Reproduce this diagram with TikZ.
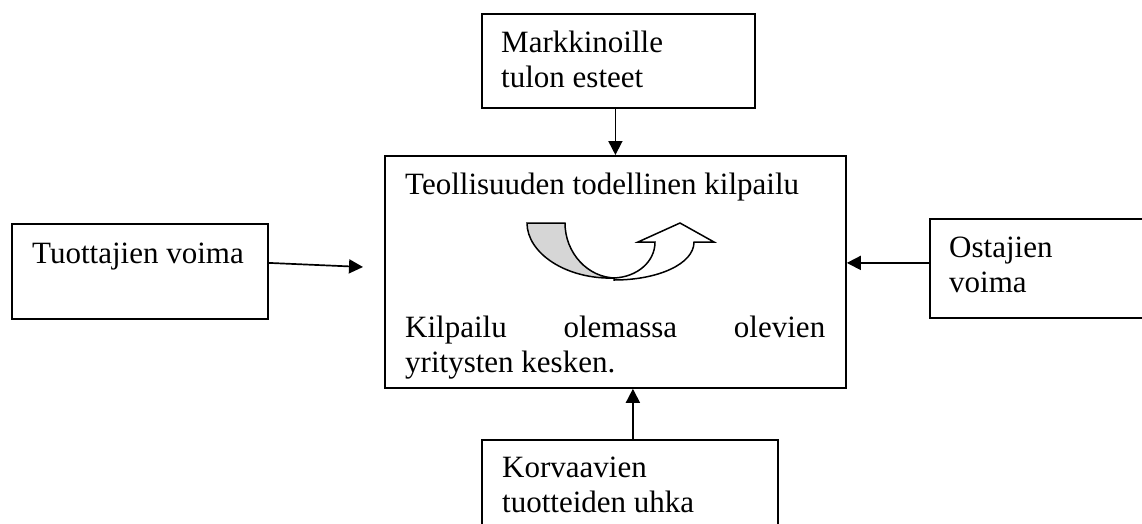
\documentclass[tikz,border=0pt]{standalone}
\usepackage{fontspec}
\setmainfont{Liberation Serif}
\usetikzlibrary{arrows.meta}

\begin{document}
\begin{tikzpicture}[x=1pt,y=-1pt,
  box/.style={draw, line width=1.8pt, rectangle, inner sep=0pt, anchor=north west},
  lbl/.style={anchor=base west, inner sep=0pt, font=\fontsize{31}{35}\selectfont},
  conn/.style={line width=1.7pt, -{Triangle[length=14pt,width=14pt]}},
  turn/.style={draw, line width=1.5pt, line join=miter}]

\useasboundingbox (0,0) rectangle (1142,523);
\clip (0,0) rectangle (1142,523);

% the five forces
\node[box, minimum width=273pt, minimum height=94pt]  (entry)     at (481,13)  {};
\node[box, minimum width=461pt, minimum height=232pt] (rivalry)   at (384,155) {};
\node[box, minimum width=256pt, minimum height=95pt]  (suppliers) at (11,223)  {};
\node[box, minimum width=240pt, minimum height=99pt]  (buyers)    at (929,218) {};
\node[box, minimum width=296pt, minimum height=100pt] (substitutes) at (481,439) {};

% labels
\node[lbl] (entrytxt) at (501,52) {\parbox[t]{240pt}{Markkinoille\\tulon esteet}};
\node[lbl] (rivtitle) at (405,194) {Teollisuuden todellinen kilpailu};
\node[lbl] (rivtxt) at (405,337) {\parbox[t]{420pt}{\noindent\hbox to 420pt{Kilpailu\hfill olemassa\hfill olevien}\\yritysten kesken.}};
\node[lbl] (suptxt) at (32,263) {Tuottajien voima};
\node[lbl] (buytxt) at (949,257) {\parbox[t]{180pt}{Ostajien\\voima}};
\node[lbl] (subtxt) at (502,477) {\parbox[t]{260pt}{Korvaavien\\tuotteiden uhka}};

% connectors
\coordinate (suptip) at (363,267);
\draw[conn] (entry.south -| rivalry.north) -- (rivalry.north);
\draw[conn] ([yshift=8.5pt]suppliers.east) -- (suptip);
\draw[conn] ([yshift=5.5pt]buyers.west) -- ([yshift=5.5pt]buyers.west -| rivalry.east);
\draw[conn] ([xshift=3pt]substitutes.north) -- ([xshift=3pt]substitutes.north |- rivalry.south);

% u-turn arrow
\draw[turn, fill=gray!32]
  (527,223) -- (565,223)
  .. controls (565,253) and (588,278) .. (616,278)
  .. controls (566,280) and (527,253) .. (527,223) -- cycle;
\draw[turn, fill=white]
  (614,278)
  .. controls (637,277) and (655,262) .. (655,242)
  -- (638,242) -- (680,223) -- (714,242) -- (694,242)
  .. controls (694,264) and (658,280) .. (614,280) -- cycle;
\end{tikzpicture}
\end{document}
